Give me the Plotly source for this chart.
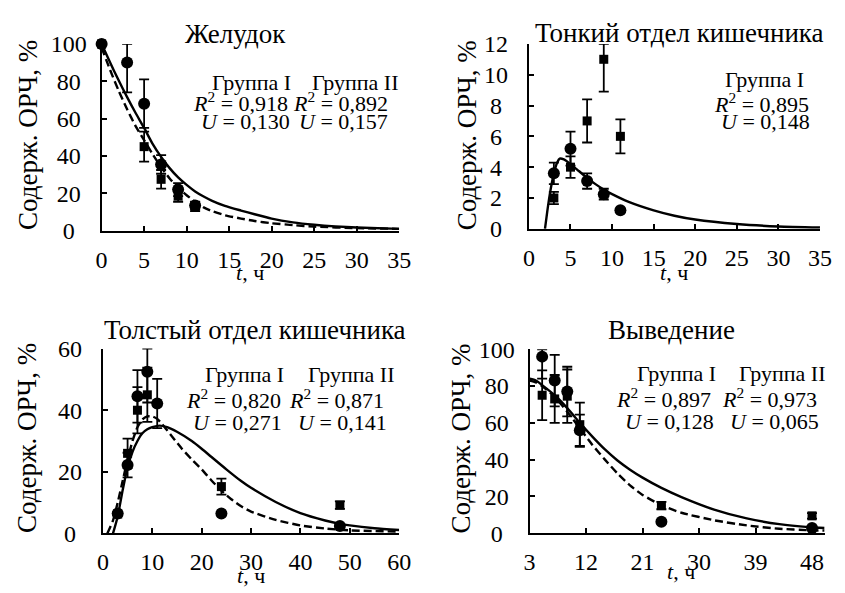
import plotly.graph_objects as go

W, H = 845, 593
FONT = "Liberation Serif"

# ---------------- data ----------------
# Panel 1: Желудок
p1_t_circ = [0, 3, 5, 7, 9, 11]
p1_y_circ = [100, 90, 68, 35.5, 22, 13.5]
p1_ep_circ = [0, 10, 13, 5, 3.5, 2]
p1_em_circ = [0, 16, 13, 5, 3.5, 2]
p1_t_sq = [0, 5, 7, 9, 11]
p1_y_sq = [100, 45, 27.5, 18.5, 12.5]
p1_e_sq = [0, 8, 5, 3, 2]
p1_fit1_t = [0, 1, 2, 3, 4, 5, 6, 7, 8, 9, 10, 11, 12, 13, 14.5, 16.4, 18, 20, 22.5, 25, 27.5, 30, 35]
p1_fit1_y = [100, 90, 80.5, 71.5, 63, 55, 46.5, 39.5, 33.5, 28.5, 24.5, 21, 18.3, 16, 13.3, 10.8, 8.8, 6.5, 4.5, 3.2, 2.3, 1.7, 1.0]
p1_fit2_t = [0, 1, 2, 3, 4, 5, 6, 7, 8, 9, 10, 11, 12, 13, 14.5, 16.4, 18, 20, 22.5, 25, 30, 35]
p1_fit2_y = [98, 86, 75, 65, 56, 48.5, 41, 34, 28, 23, 19, 15.5, 12.5, 10.5, 8.3, 6.5, 5.2, 4.0, 3.0, 2.2, 1.4, 1.0]

# Panel 2: Тонкий отдел кишечника
p2_t_circ = [3, 5, 7, 9, 11]
p2_y_circ = [3.6, 5.2, 3.1, 2.25, 1.2]
p2_e_circ = [0.7, 1.1, 0.5, 0.35, 0.1]
p2_t_sq = [3, 5, 7, 9, 11]
p2_y_sq = [2.0, 4.0, 7.0, 11.0, 6.0]
p2_ep_sq = [0.4, 0.7, 1.4, 1.0, 1.1]
p2_em_sq = [0.4, 0.7, 1.4, 2.1, 1.1]
p2_fit_t = [1.93, 2.2, 2.5, 2.8, 3.1, 3.4, 3.7, 4.2, 5, 6, 7, 8, 9, 10, 12, 15, 17.5, 20, 25, 30, 35]
p2_fit_y = [0, 1.1, 2.2, 3.1, 3.8, 4.3, 4.55, 4.5, 4.2, 3.75, 3.3, 2.9, 2.55, 2.25, 1.75, 1.2, 0.85, 0.6, 0.31, 0.15, 0.08]

# Panel 3: Толстый отдел кишечника
p3_t_circ = [3, 5, 7, 9, 11, 24, 48]
p3_y_circ = [6.5, 22.2, 44.5, 52.5, 42.2, 6.5, 2.4]
p3_ep_circ = [0.5, 4, 8.5, 7.5, 8, 0.5, 0.5]
p3_em_circ = [0.5, 4, 8.5, 10, 8, 0.5, 0.5]
p3_t_sq = [3, 5, 7, 9, 24, 48]
p3_y_sq = [6.3, 26, 40, 45, 15.2, 9.2]
p3_e_sq = [0.5, 4.8, 7.5, 8.8, 2.6, 1.2]
p3_fit1_t = [2.05, 3, 4, 5, 6, 7, 8, 9, 10, 11.5, 13, 15, 18, 20, 22, 25, 28, 30, 35, 40, 45, 48, 50, 55, 60]
p3_fit1_y = [0, 5.5, 14, 21.5, 26.5, 30, 32.5, 33.8, 34.5, 35, 34.5, 33, 30, 27.5, 24.8, 20.8, 17, 14.8, 10.2, 6.6, 4.2, 3.1, 2.6, 1.7, 1.1]
p3_fit2_t = [0.9, 2, 3, 4, 5, 6, 7, 8, 9, 10, 11, 12, 14, 16, 18, 20, 22, 24, 26, 28, 30, 35, 40, 45, 50, 60]
p3_fit2_y = [0, 4, 10, 17, 24, 30, 34.5, 37, 38, 38, 37.2, 35.5, 31.5, 27.5, 24, 20.8, 17.2, 13.9, 11.1, 8.8, 7.1, 4.4, 2.6, 1.6, 1.0, 0.6]

# Panel 4: Выведение
p4_t_circ = [5, 7, 9, 11, 24, 48]
p4_y_circ = [96, 83, 77, 56, 6.2, 2.8]
p4_ep_circ = [4, 14, 13.5, 8.5, 1, 0.8]
p4_em_circ = [12, 14, 13.5, 8.5, 1, 0.8]
p4_t_sq = [5, 7, 9, 11, 24, 48]
p4_y_sq = [75, 73, 74.5, 59, 15, 9.4]
p4_e_sq = [13.5, 13, 14.5, 12, 2, 1.5]
p4_fit1_t = [3, 4, 5, 7, 9, 11, 13, 15, 17, 19, 21, 24, 27.2, 32.4, 37.6, 42.8, 47.5, 50]
p4_fit1_y = [84, 83, 80.5, 75, 68, 60, 52.5, 45.5, 39.5, 34.5, 30.2, 24.6, 19.6, 12.8, 8.0, 4.9, 3.3, 2.8]
p4_fit2_t = [3, 4, 5, 7, 9, 11, 13, 15, 17, 19, 21, 24, 27.2, 32.4, 37.6, 42.8, 47.5, 50]
p4_fit2_y = [83, 82, 80, 74, 66, 57, 48, 40, 32.5, 26, 20.8, 15.2, 11.1, 7.0, 4.2, 2.4, 1.6, 1.4]

# y tick labels (centred in a column, as in the reference)
p1_yticks = [0, 20, 40, 60, 80, 100]
p2_yticks = [0, 2, 4, 6, 8, 10, 12]
p3_yticks = [0, 20, 40, 60]
p4_yticks = [0, 20, 40, 60, 80, 100]

titles = ["Желудок", "Тонкий отдел кишечника", "Толстый отдел кишечника", "Выведение"]
y_title = "Содерж. ОРЧ, %"
x_title = "<i>t</i>, ч"

# ---------------- helpers ----------------
def px(x):
    return x / W

def py(y):
    return 1 - y / H

HALF = "\u2008"   # ~ half a digit
FULL = "\u2007"   # one digit

def centred(vals):
    n = max(len(str(v)) for v in vals)
    out = []
    for v in vals:
        d = n - len(str(v))
        out.append(str(v) + FULL * (d // 2) + HALF * (d % 2))
    return out

fig = go.Figure()

def add_points(t, y, sym, size, ax, ep, em=None):
    err = dict(type="data", array=ep, color="black", thickness=1.8, width=5, visible=True)
    if em is not None:
        err["symmetric"] = False
        err["arrayminus"] = em
    fig.add_trace(go.Scatter(
        x=t, y=y, mode="markers", xaxis=ax[0], yaxis=ax[1],
        marker=dict(symbol=sym, size=size, color="black"),
        error_y=err, cliponaxis=False, showlegend=False))

def add_line(t, y, dash, ax):
    fig.add_trace(go.Scatter(
        x=t, y=y, mode="lines", xaxis=ax[0], yaxis=ax[1],
        line=dict(color="black", width=2.4, dash=dash, shape="spline", smoothing=0.6),
        showlegend=False))

A1, A2, A3, A4 = ("x", "y"), ("x2", "y2"), ("x3", "y3"), ("x4", "y4")
DASH = "8px,4px"

add_line(p1_fit2_t, p1_fit2_y, DASH, A1)
add_line(p1_fit1_t, p1_fit1_y, "solid", A1)
add_points(p1_t_sq, p1_y_sq, "square", 9, A1, p1_e_sq)
add_points(p1_t_circ, p1_y_circ, "circle", 12, A1, p1_ep_circ, p1_em_circ)

add_line(p2_fit_t, p2_fit_y, "solid", A2)
add_points(p2_t_sq, p2_y_sq, "square", 9, A2, p2_ep_sq, p2_em_sq)
add_points(p2_t_circ, p2_y_circ, "circle", 12, A2, p2_e_circ)

add_line(p3_fit2_t, p3_fit2_y, DASH, A3)
add_line(p3_fit1_t, p3_fit1_y, "solid", A3)
add_points(p3_t_sq, p3_y_sq, "square", 9, A3, p3_e_sq)
add_points(p3_t_circ, p3_y_circ, "circle", 12, A3, p3_ep_circ, p3_em_circ)

add_line(p4_fit2_t, p4_fit2_y, DASH, A4)
add_line(p4_fit1_t, p4_fit1_y, "solid", A4)
add_points(p4_t_sq, p4_y_sq, "square", 9, A4, p4_e_sq)
add_points(p4_t_circ, p4_y_circ, "circle", 12, A4, p4_ep_circ, p4_em_circ)

tickfont = dict(family=FONT, size=24, color="black")

def xax(domain, rng, tick0, dtick, anchor):
    return dict(domain=domain, range=rng, tick0=tick0, dtick=dtick, anchor=anchor,
                showline=True, linecolor="black", linewidth=2, ticks="inside",
                ticklen=5, tickwidth=1.5, tickcolor="black", showgrid=False,
                zeroline=False, tickfont=tickfont, ticklabelstandoff=6)

def yax(domain, rng, ticks, anchor, standoff):
    return dict(domain=domain, range=rng, tickmode="array", tickvals=ticks,
                ticktext=centred(ticks), anchor=anchor,
                showline=True, linecolor="black", linewidth=2, ticks="inside",
                ticklen=5, tickwidth=1.5, tickcolor="black", showgrid=False,
                zeroline=False, tickfont=tickfont, ticklabelstandoff=standoff)

fig.update_layout(
    width=W, height=H, margin=dict(l=0, r=0, t=0, b=0),
    paper_bgcolor="white", plot_bgcolor="white", showlegend=False,
    font=dict(family=FONT, color="black"),
    xaxis=xax([px(97.7), px(401.7)], [0, 35], 0, 5, "y"),
    yaxis=yax([py(227.7), py(32.3)], [0, 100], p1_yticks, "x", 8),
    xaxis2=xax([px(534.3), px(831.7)], [0, 35], 0, 5, "y2"),
    yaxis2=yax([py(225.7), py(32.3)], [0, 12], p2_yticks, "x2", 14),
    xaxis3=xax([px(99), px(401.7)], [0, 60], 0, 10, "y3"),
    yaxis3=yax([py(544.3), py(351)], [0, 60], p3_yticks, "x3", 14),
    xaxis4=xax([px(535), px(836.4)], [3, 50], 3, 9, "y4"),
    yaxis4=yax([py(544), py(351.7)], [0, 100], p4_yticks, "x4", 8),
)

ann = []
def text(x, y, s, size=22, angle=0):
    ann.append(dict(x=px(x), y=py(y), xref="paper", yref="paper", text=s, showarrow=False,
                    xanchor="center", yanchor="middle", textangle=angle,
                    font=dict(family=FONT, size=size, color="black")))

# titles
text(235, 22, titles[0], 27)
text(688, 21, titles[1], 27)
text(254, 332, titles[2], 27)
text(680, 332, titles[3], 27)

# y titles
text(23, 128, y_title, 27, -90)
text(471, 128, y_title, 27, -90)
text(22, 445, y_title, 27, -90)
text(465, 445, y_title, 27, -90)

# x titles
text(249.7, 271, x_title, 22)
text(683, 271, x_title, 22)
text(250, 588, x_title, 22)
text(690, 584, x_title, 22)

R2 = "<i>R</i><sup>2</sup> = "
U = "<i>U</i> = "
# panel 1
text(251, 73, "Группа I"); text(357, 73, "Группа II")
text(240, 93, R2 + "0,918"); text(342, 93, R2 + "0,892")
text(245, 113, U + "0,130"); text(345, 113, U + "0,157")
# panel 2
text(775, 70, "Группа I")
text(772, 94, R2 + "0,895")
text(776, 113, U + "0,148")
# panel 3
text(244, 378, "Группа I"); text(353, 378, "Группа II")
text(232, 404, R2 + "0,820"); text(338, 404, R2 + "0,871")
text(237, 428, U + "0,271"); text(344, 428, U + "0,141")
# panel 4
text(685, 377, "Группа I"); text(793, 377, "Группа II")
text(672, 403, R2 + "0,897"); text(780, 403, R2 + "0,973")
text(678, 427, U + "0,128"); text(785, 427, U + "0,065")

fig.update_layout(annotations=ann)
fig.write_html("out.html")
